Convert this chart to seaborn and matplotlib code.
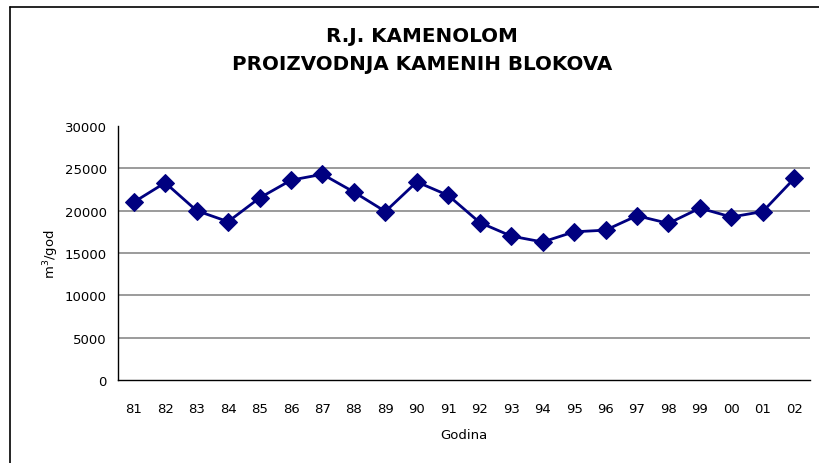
import matplotlib
matplotlib.use("Agg")
import matplotlib.pyplot as plt
from matplotlib.lines import Line2D
import seaborn as sns
import numpy as np
import pandas as pd

years = ["81", "82", "83", "84", "85", "86", "87", "88", "89", "90", "91",
         "92", "93", "94", "95", "96", "97", "98", "99", "00", "01", "02"]
production = [21000, 23300, 20000, 18700, 21500, 23600, 24300, 22200, 19900, 23400, 21800,
              18600, 17000, 16300, 17500, 17700, 19400, 18500, 20300, 19250, 19900, 23800]
y_ticks = [0, 5000, 10000, 15000, 20000, 25000, 30000]

sns.set_style("white")
plt.rcParams['font.family'] = ['DejaVu Sans']
plt.rcParams['text.color'] = 'black'
plt.rcParams['axes.labelcolor'] = 'black'
plt.rcParams['xtick.color'] = 'black'
plt.rcParams['ytick.color'] = 'black'

df = pd.DataFrame({"idx": np.arange(len(years)), "val": production})

fig = plt.figure(figsize=(8.19, 4.64), dpi=100)
ax = fig.add_axes([118/819, 1-381/464, (810-118)/819, (381-127)/464])

for v in y_ticks[1:-1]:
    ax.axhline(v, color="#808080", lw=1.1, zorder=0)

sns.lineplot(data=df, x="idx", y="val", ax=ax, color="#000080", lw=2,
             marker="D", markersize=9, markeredgecolor="#000080", zorder=3)

ax.set_xlim(-0.5, len(years) - 0.5)
ax.set_ylim(0, 30000)
ax.set_yticks(y_ticks)
ax.set_yticklabels([str(v) for v in y_ticks], fontsize=9.5)
ax.set_xticks(np.arange(len(years)))
ax.set_xticklabels(years, fontsize=9.5)
ax.set_xticks(np.arange(len(years) + 1) - 0.5, minor=True)
ax.tick_params(axis="x", which="major", length=0, pad=16)
ax.tick_params(axis="x", which="minor", length=5, width=1, color="black", direction="out")
ax.tick_params(axis="y", length=5, width=1, color="black", direction="out", pad=3)

for s in ["top", "right"]:
    ax.spines[s].set_visible(False)
for s in ["left", "bottom"]:
    ax.spines[s].set_color("black")
    ax.spines[s].set_linewidth(1)

ax.set_xlabel("Godina", fontsize=9.5, labelpad=9)
ax.set_ylabel("m$^3$/god", fontsize=9.5, labelpad=3)

fig.text(422/819, 1-36/464, "R.J. KAMENOLOM", ha="center", va="center",
         fontsize=14.3, fontweight="bold")
fig.text(422/819, 1-64/464, "PROIZVODNJA KAMENIH BLOKOVA", ha="center", va="center",
         fontsize=14.3, fontweight="bold")

# chart border (left and top visible)
fig.add_artist(Line2D([10/819, 10/819], [0, 1-8/464], transform=fig.transFigure,
                      color="black", lw=1.2))
fig.add_artist(Line2D([10/819, 1], [1-8/464, 1-8/464], transform=fig.transFigure,
                      color="black", lw=1.2))

fig.savefig("out.png", dpi=100)
